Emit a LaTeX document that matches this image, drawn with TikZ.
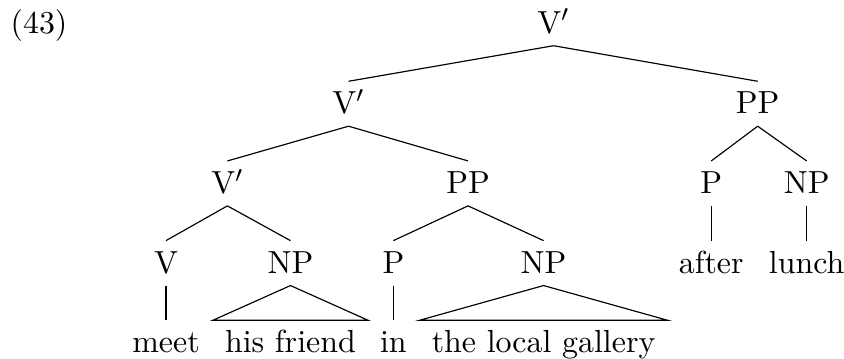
\documentclass[tikz,border=0pt]{standalone}
\usepackage{tikz}
\begin{document}
\begin{tikzpicture}[
    every node/.style={font=\fontsize{10.95pt}{13.6pt}\selectfont},
    cat/.style={text height=7pt, text depth=0pt, inner ysep=4pt, inner xsep=4pt},
    branch/.style={line width=0.4pt}
]
\useasboundingbox (0,0) rectangle (10.17,4.32);
\node[cat] (ex) at (0.47,4.04) {(43)};

% levels
\node[cat] (vbar1) at (6.67,4.04) {V$'$};
\node[cat] (vbar2) at (4.20,3.07) {V$'$};
\node[cat] (pp1)   at (9.13,3.07) {PP};
\node[cat] (vbar3) at (2.74,2.11) {V$'$};
\node[cat] (pp2)   at (5.64,2.11) {PP};
\node[cat] (p1)    at (8.57,2.11) {P};
\node[cat] (np1)   at (9.72,2.11) {NP};
\node[cat] (v)     at (2.00,1.15) {V};
\node[cat] (np2)   at (3.50,1.15) {NP};
\node[cat] (p2)    at (4.74,1.15) {P};
\node[cat] (np3)   at (6.55,1.15) {NP};
\node[cat] (after) at (8.57,1.15) {after};
\node[cat] (lunch) at (9.72,1.15) {lunch};

% words
\node[cat] (meet)    at (2.00,0.19) {meet};
\node[cat] (friend)  at (3.50,0.19) {his friend};
\node[cat] (in)      at (4.74,0.19) {in};
\node[cat] (gallery) at (6.55,0.19) {the local gallery};

\draw[branch] (vbar1.south) -- (vbar2.north);
\draw[branch] (vbar1.south) -- (pp1.north);
\draw[branch] (vbar2.south) -- (vbar3.north);
\draw[branch] (vbar2.south) -- (pp2.north);
\draw[branch] (pp1.south) -- (p1.north);
\draw[branch] (pp1.south) -- (np1.north);
\draw[branch] (vbar3.south) -- (v.north);
\draw[branch] (vbar3.south) -- (np2.north);
\draw[branch] (pp2.south) -- (p2.north);
\draw[branch] (pp2.south) -- (np3.north);
\draw[branch] (p1.south) -- (after.north);
\draw[branch] (np1.south) -- (lunch.north);
\draw[branch] (v.south) -- (meet.north);
\draw[branch] (p2.south) -- (in.north);
\draw[branch] (np2.south) -- (friend.north west) -- (friend.north east) -- cycle;
\draw[branch] (np3.south) -- (gallery.north west) -- (gallery.north east) -- cycle;
\end{tikzpicture}
\end{document}
